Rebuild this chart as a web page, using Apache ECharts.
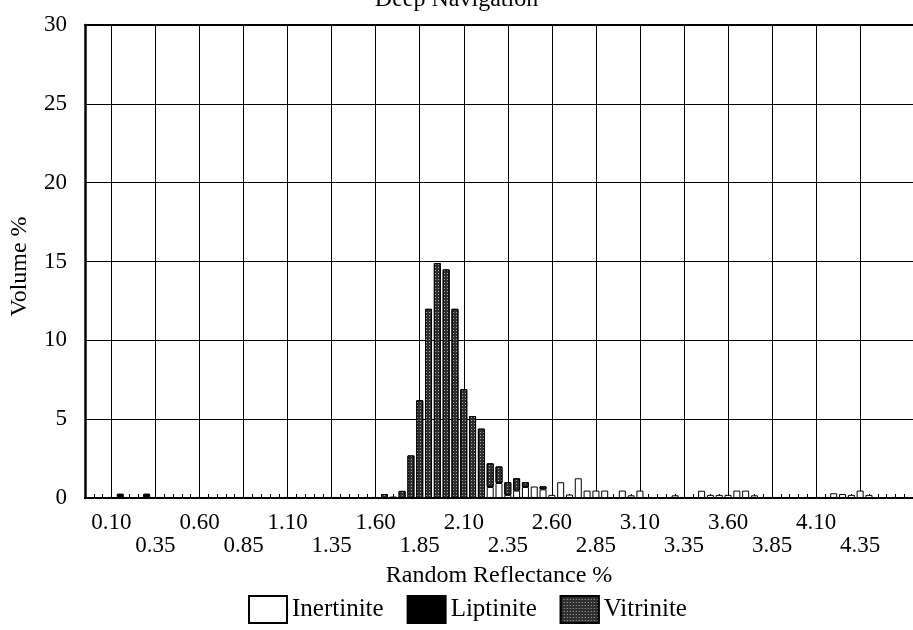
<!DOCTYPE html>
<html>
<head>
<meta charset="utf-8">
<script src="https://cdn.jsdelivr.net/npm/echarts@6/dist/echarts.min.js"></script>
<style>
html,body{margin:0;padding:0;background:#fff;}
#chart{width:913px;height:630px;}
</style>
</head>
<body>
<div id="chart"></div>
<script>
// Reflectance bins (0.05 % steps)
const bins = ['-0.05','0.00','0.05','0.10','0.15','0.20','0.25','0.30','0.35','0.40','0.45','0.50','0.55','0.60','0.65','0.70','0.75','0.80','0.85','0.90','0.95','1.00','1.05','1.10','1.15','1.20','1.25','1.30','1.35','1.40','1.45','1.50','1.55','1.60','1.65','1.70','1.75','1.80','1.85','1.90','1.95','2.00','2.05','2.10','2.15','2.20','2.25','2.30','2.35','2.40','2.45','2.50','2.55','2.60','2.65','2.70','2.75','2.80','2.85','2.90','2.95','3.00','3.05','3.10','3.15','3.20','3.25','3.30','3.35','3.40','3.45','3.50','3.55','3.60','3.65','3.70','3.75','3.80','3.85','3.90','3.95','4.00','4.05','4.10','4.15','4.20','4.25','4.30','4.35','4.40','4.45','4.50','4.55','4.60','4.65'];

// Labelled ticks (alternating rows)
const tickLabels = ['0.10','0.35','0.60','0.85','1.10','1.35','1.60','1.85','2.10','2.35','2.60','2.85','3.10','3.35','3.60','3.85','4.10','4.35'];

const inertinite = [
  ['2.25',0.7],['2.30',0.95],['2.35',0.2],['2.40',0.47],['2.45',0.7],['2.50',0.73],['2.55',0.55],
  ['2.60',0.2],['2.65',1.0],['2.70',0.22],['2.75',1.25],['2.80',0.47],['2.85',0.47],['2.90',0.47],
  ['2.95',0.05],['3.00',0.47],['3.05',0.17],['3.10',0.47],['3.15',0.05],['3.20',0.05],['3.25',0.05],
  ['3.30',0.17],['3.40',0.05],['3.45',0.46],['3.50',0.2],['3.55',0.2],['3.60',0.2],['3.65',0.47],
  ['3.70',0.47],['3.75',0.17],['3.80',0.05],['3.90',0.05],['3.95',0.05],['4.00',0.05],['4.05',0.05],
  ['4.15',0.05],['4.20',0.3],['4.25',0.25],['4.30',0.2],['4.35',0.47],['4.40',0.2],['4.45',0.05],['4.50',0.05]
];

const liptinite = [
  ['0.15',0.28],['0.30',0.28]
];

const vitrinite = [
  ['1.65',0.25],['1.70',0.08],['1.75',0.45],['1.80',2.7],['1.85',6.2],['1.90',12.0],['1.95',14.9],
  ['2.00',14.5],['2.05',12.0],['2.10',6.9],['2.15',5.2],['2.20',4.4],['2.25',1.5],['2.30',1.05],
  ['2.35',0.8],['2.40',0.78],['2.45',0.3],['2.55',0.19]
];

const FONT = 'Liberation Serif';
const chart = echarts.init(document.getElementById('chart'));
const isLabel = (v) => tickLabels.indexOf(v) >= 0;

chart.setOption({
  animation: false,
  backgroundColor: '#fff',
  title: {
    text: 'Deep Navigation',
    left: 'center',
    top: -12,
    padding: 0,
    textStyle: {fontFamily: FONT, fontSize: 24, fontWeight: 'normal', color: '#000'}
  },
  legend: {
    left: 248,
    top: 595,
    padding: 0,
    icon: 'rect',
    itemWidth: 38,
    itemHeight: 27,
    itemGap: 23,
    textStyle: {fontFamily: FONT, fontSize: 25, color: '#000'},
    data: ['Inertinite', 'Liptinite', 'Vitrinite']
  },
  grid: {left: 85, right: 0, top: 25, bottom: 132},
  xAxis: [{
    type: 'category',
    data: bins,
    boundaryGap: false,
    axisLine: {show: true, lineStyle: {color: '#000', width: 2}},
    axisTick: {show: true, inside: true, length: 4, interval: 0, lineStyle: {color: '#000', width: 1}},
    axisLabel: {
      interval: (i, v) => isLabel(v),
      formatter: (v) => (tickLabels.indexOf(v) % 2 === 1 ? '\n' + v : v),
      fontFamily: FONT, fontSize: 23, color: '#000', margin: 13, lineHeight: 23
    },
    splitLine: {show: true, interval: (i, v) => isLabel(v), lineStyle: {color: '#000', width: 1}},
    name: 'Random Reflectance %',
    nameLocation: 'middle',
    nameGap: 66,
    nameTextStyle: {fontFamily: FONT, fontSize: 24, color: '#000'}
  }, {
    type: 'category',
    data: bins,
    position: 'top',
    boundaryGap: false,
    axisLine: {show: true, lineStyle: {color: '#000', width: 2}},
    axisTick: {show: false},
    axisLabel: {show: false},
    splitLine: {show: false}
  }],
  yAxis: {
    type: 'value',
    min: 0, max: 30, interval: 5,
    axisLine: {show: true, lineStyle: {color: '#000', width: 2.5}},
    axisTick: {show: false},
    axisLabel: {fontFamily: FONT, fontSize: 23, color: '#000', margin: 18},
    splitLine: {show: true, lineStyle: {color: '#000', width: 1}},
    name: 'Volume %',
    nameLocation: 'middle',
    nameGap: 53,
    nameTextStyle: {fontFamily: FONT, fontSize: 24, color: '#000', padding: [0, 10, 0, 0]}
  },
  series: [{
    name: 'Inertinite', type: 'bar', stack: 'm', barWidth: 7,
    itemStyle: {color: '#fff', borderColor: '#000', borderWidth: 1},
    data: inertinite
  }, {
    name: 'Liptinite', type: 'bar', stack: 'm', barWidth: 7,
    itemStyle: {color: '#000', borderColor: '#000', borderWidth: 1},
    data: liptinite
  }, {
    name: 'Vitrinite', type: 'bar', stack: 'm', barWidth: 7,
    itemStyle: {
      color: '#2e2e2e', borderColor: '#000', borderWidth: 1,
      decal: {symbol: 'rect', symbolSize: 1, color: 'rgba(255,255,255,0.6)', dashArrayX: [1, 2], dashArrayY: [1, 2]}
    },
    data: vitrinite
  }]
});
</script>
</body>
</html>
